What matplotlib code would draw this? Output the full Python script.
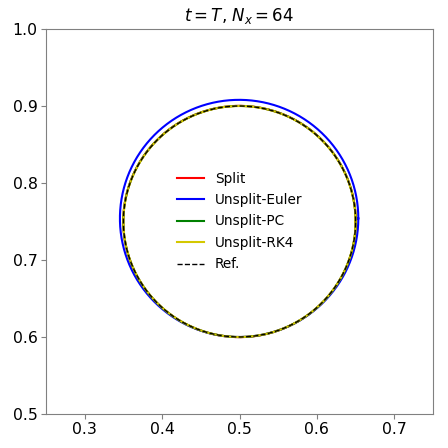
import numpy as np
import matplotlib
matplotlib.use("Agg")
import matplotlib.pyplot as plt

# Data: each series is a closed interface curve (circle) described by center and radius
labels = ["Split", "Unsplit-Euler", "Unsplit-PC", "Unsplit-RK4", "Ref."]
centers_x = [0.5, 0.4995, 0.5, 0.5, 0.5]
centers_y = [0.75, 0.7540, 0.75, 0.75, 0.75]
radii = [0.1502, 0.1540, 0.1501, 0.1500, 0.1500]
colors = ["red", "blue", "green", "#d4c800", "black"]
styles = ["-", "-", "-", "-", "--"]
widths = [1.5, 1.5, 1.5, 1.5, 1.0]

x_ticks = [0.3, 0.4, 0.5, 0.6, 0.7]
y_ticks = [0.5, 0.6, 0.7, 0.8, 0.9, 1.0]

fig = plt.figure(figsize=(4.48, 4.48), dpi=100)
ax = fig.add_axes([46/448, 1 - 414/448, (433 - 46)/448, (414 - 29)/448])

theta = np.linspace(0, 2 * np.pi, 400)
for lab, cx, cy, r, c, ls, lw in zip(labels, centers_x, centers_y, radii, colors, styles, widths):
    ax.plot(cx + r * np.cos(theta), cy + r * np.sin(theta), color=c, ls=ls, lw=lw, label=lab)

ax.set_xlim(0.25, 0.75)
ax.set_ylim(0.5, 1.0)
ax.set_xticks(x_ticks)
ax.set_yticks(y_ticks)
ax.tick_params(labelsize=11.3, color="gray", pad=2.5)
for s in ax.spines.values():
    s.set_color("gray")
ax.set_title(r"$t = T$, $N_x = 64$", fontsize=12)
ax.legend(loc="center", frameon=False, fontsize=9.8, labelspacing=0.55)

fig.savefig("out.png", dpi=100)
